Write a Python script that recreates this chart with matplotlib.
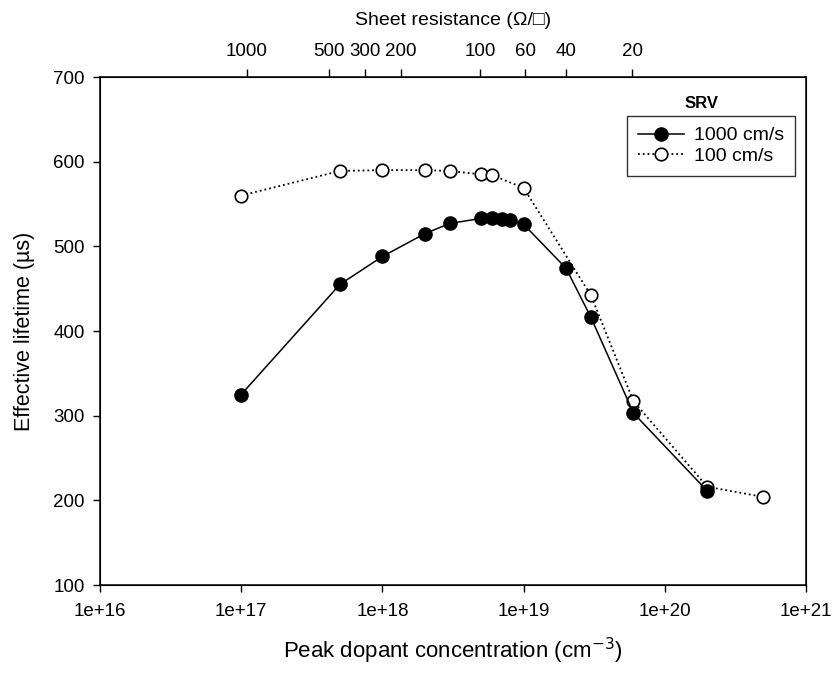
import matplotlib

matplotlib.use("Agg")
import matplotlib.pyplot as plt
from matplotlib.ticker import FixedLocator, FixedFormatter, NullLocator

plt.rcParams["font.family"] = ["Liberation Sans", "DejaVu Sans"]

# SRV = 1000 cm/s
conc_1000 = [1e17, 5e17, 1e18, 2e18, 3e18, 5e18, 6e18, 7e18, 8e18, 1e19, 2e19, 3e19, 6e19, 2e20]
tau_1000 = [325, 455, 488, 515, 527, 533, 533, 532, 531, 526, 474, 416, 303, 211]

# SRV = 100 cm/s
conc_100 = [1e17, 5e17, 1e18, 2e18, 3e18, 5e18, 6e18, 1e19, 3e19, 6e19, 2e20, 5e20]
tau_100 = [560, 589, 590, 590, 589, 585, 584, 569, 442, 317, 216, 204]

# top axis: sheet resistance (ohm/sq) at matching peak concentration
rsh_pos = [1.1e17, 4.2e17, 7.5e17, 1.35e18, 4.9e18, 1.03e19, 2e19, 5.9e19]
rsh_labels = ["1000", "500", "300", "200", "100", "60", "40", "20"]

fig = plt.figure(figsize=(8.35, 6.74), dpi=100)
ax = fig.add_axes([100 / 835, 1 - 585 / 674, 706 / 835, 508 / 674])

ax.plot(conc_1000, tau_1000, "-", color="black", lw=1.1, marker="o", ms=9.5,
        mfc="black", mec="black", label="1000 cm/s", zorder=3)
ax.plot(conc_100, tau_100, ":", color="black", lw=1.3, marker="o", ms=9,
        mfc="white", mec="black", mew=1.2, label="100 cm/s", zorder=2)

ax.set_xscale("log")
ax.set_xlim(1e16, 1e21)
ax.set_ylim(100, 700)
ax.set_xticks([1e16, 1e17, 1e18, 1e19, 1e20, 1e21])
ax.set_xticklabels(["1e+16", "1e+17", "1e+18", "1e+19", "1e+20", "1e+21"])
ax.xaxis.set_minor_locator(NullLocator())
ax.set_yticks(range(100, 701, 100))
ax.tick_params(labelsize=13.5, direction="out", length=5, width=1, pad=6)
ax.tick_params(axis="x", pad=8)
ax.set_xlabel("Peak dopant concentration (cm$^{-3}$)", fontsize=16, labelpad=11)
ax.set_ylabel("Effective lifetime (\u00b5s)", fontsize=15.5, labelpad=13)
for s in ax.spines.values():
    s.set_linewidth(1.1)

top = ax.twiny()
top.set_xscale("log")
top.set_xlim(ax.get_xlim())
top.xaxis.set_major_locator(FixedLocator(rsh_pos))
top.xaxis.set_major_formatter(FixedFormatter(rsh_labels))
top.xaxis.set_minor_locator(NullLocator())
top.tick_params(labelsize=13.5, direction="out", length=6, width=1, pad=6)
top.set_xlabel("Sheet resistance (\u03a9/\u25a1)", fontsize=14, labelpad=13)

leg = ax.legend(loc="upper right", bbox_to_anchor=(795 / 835, 1 - 116 / 674),
                bbox_transform=fig.transFigure, frameon=True, fancybox=False,
                edgecolor="black", fontsize=14, handlelength=2.4,
                borderpad=0.55, labelspacing=0.15, handletextpad=0.5,
                borderaxespad=0)
leg.get_frame().set_linewidth(1.0)
fig.text(702 / 835, 1 - 104 / 674, "SRV", fontsize=12, fontweight="bold",
         ha="center", va="center")

fig.savefig("out.png", dpi=100)
